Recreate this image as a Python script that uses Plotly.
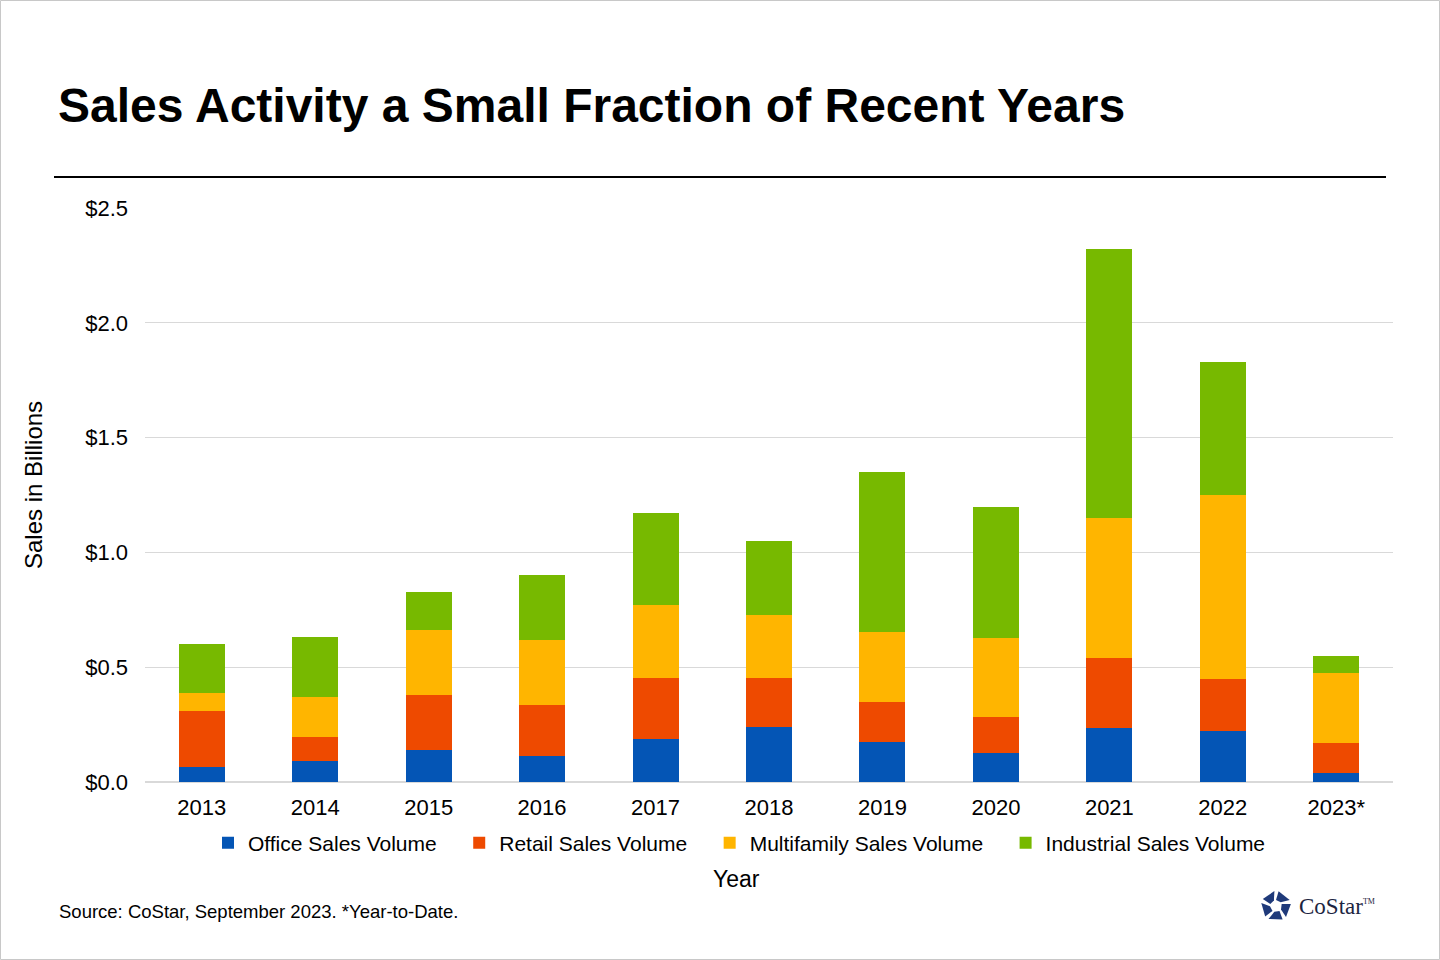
import math
import plotly.graph_objects as go

# --------------------------------------Data--------------------------------------#
years = ['2013', '2014', '2015', '2016', '2017', '2018', '2019', '2020', '2021', '2022', '2023*']

office = [0.065, 0.092, 0.139, 0.113, 0.187, 0.240, 0.174, 0.126, 0.235, 0.222, 0.039]
retail = [0.244, 0.104, 0.240, 0.223, 0.266, 0.213, 0.175, 0.157, 0.305, 0.227, 0.131]
multifamily = [0.079, 0.174, 0.283, 0.283, 0.318, 0.275, 0.305, 0.344, 0.610, 0.802, 0.305]
industrial = [0.213, 0.262, 0.166, 0.283, 0.401, 0.322, 0.697, 0.571, 1.172, 0.579, 0.074]

series_names = ['Office Sales Volume', 'Retail Sales Volume',
                'Multifamily Sales Volume', 'Industrial Sales Volume']
series_colors = ['#0455B5', '#EE4A00', '#FFB500', '#77B900']

FONT = 'Arial, Liberation Sans, sans-serif'

# plot area in pixels (1440x960 page)
L, R, T, B = 145, 47, 208, 178
PW = 1440 - L - R
PH = 960 - T - B


def px(x):
    return (x - L) / PW


def py(y):
    return (960 - B - y) / PH


fig = go.Figure()
for name, vals, col in zip(series_names, [office, retail, multifamily, industrial], series_colors):
    # trailing spaces widen the gap between legend entries
    fig.add_trace(go.Bar(x=years, y=vals, name=name + '\u00a0' * 3, marker_color=col,
                         marker_line_width=0))

fig.update_layout(
    barmode='stack',
    bargap=0.595,
    width=1440,
    height=960,
    margin=dict(l=L, r=R, t=T, b=B),
    plot_bgcolor='white',
    paper_bgcolor='white',
    font=dict(family=FONT, color='#000000', size=21),
    legend=dict(orientation='h', x=px(748), y=py(843), xanchor='center', yanchor='middle',
                font=dict(size=21), itemwidth=30, traceorder='normal', tracegroupgap=0),
    xaxis=dict(showgrid=False, showline=True, linecolor='#d9d9d9', linewidth=1,
               ticks='', tickfont=dict(size=22), ticklabelstandoff=6),
    yaxis=dict(range=[0, 2.5], dtick=0.5, tickformat='$.1f', showgrid=True,
               gridcolor='#d9d9d9', gridwidth=1, zeroline=True, zerolinecolor='#d9d9d9',
               ticks='', tickfont=dict(size=22), ticklabelstandoff=16),
)

# texts
annotations = [
    dict(text='<b>Sales Activity a Small Fraction of Recent Years</b>', x=px(56), y=py(106),
         xanchor='left', yanchor='middle', font=dict(size=48)),
    dict(text='Sales in Billions', x=px(33), y=py(485), textangle=-90,
         xanchor='center', yanchor='middle', font=dict(size=24)),
    dict(text='Year', x=px(736), y=py(879), xanchor='center', yanchor='middle',
         font=dict(size=23)),
    dict(text='Source: CoStar, September 2023. *Year-to-Date.', x=px(57), y=py(911),
         xanchor='left', yanchor='middle', font=dict(size=18.5)),
    dict(text='CoStar<sup><span style="font-size:8px">TM</span></sup>', x=px(1297), y=py(907),
         xanchor='left', yanchor='middle',
         font=dict(size=23, family='Liberation Serif, Times New Roman, serif', color='#1c2541')),
]
for a in annotations:
    a.update(xref='paper', yref='paper', showarrow=False)
fig.update_layout(annotations=annotations)

# header rule and page border
shapes = [
    dict(type='line', xref='paper', yref='paper', x0=px(54), x1=px(1386), y0=py(177), y1=py(177),
         line=dict(color='black', width=2)),
    dict(type='rect', xref='paper', yref='paper', x0=px(0.5), x1=px(1439.5), y0=py(0.5),
         y1=py(959.5), line=dict(color='#c8c8c8', width=1)),
]

# small CoStar mark: five blades round a pentagon
cx, cy = px(1276), py(906)
for k in range(5):
    a0 = math.radians(90 + k * 72)
    pts = [(15 * math.cos(a0 + math.radians(6)), 15 * math.sin(a0 + math.radians(6))),
           (15 * math.cos(a0 + math.radians(62)), 15 * math.sin(a0 + math.radians(62))),
           (6 * math.cos(a0 + math.radians(72)), 6 * math.sin(a0 + math.radians(72))),
           (6 * math.cos(a0 + math.radians(20)), 6 * math.sin(a0 + math.radians(20)))]
    path = 'M ' + ' L '.join(f'{x:.1f},{y:.1f}' for x, y in pts) + ' Z'
    shapes.append(dict(type='path', xref='paper', yref='paper', xsizemode='pixel',
                       ysizemode='pixel', xanchor=cx, yanchor=cy, path=path,
                       fillcolor='#1f3a7a', line=dict(width=0)))
fig.update_layout(shapes=shapes)

# drop the browser's default 8px page margin so the figure sits at 0,0
fig.write_html("out.html", config={'displayModeBar': False},
               post_script="document.body.style.margin='0';")
